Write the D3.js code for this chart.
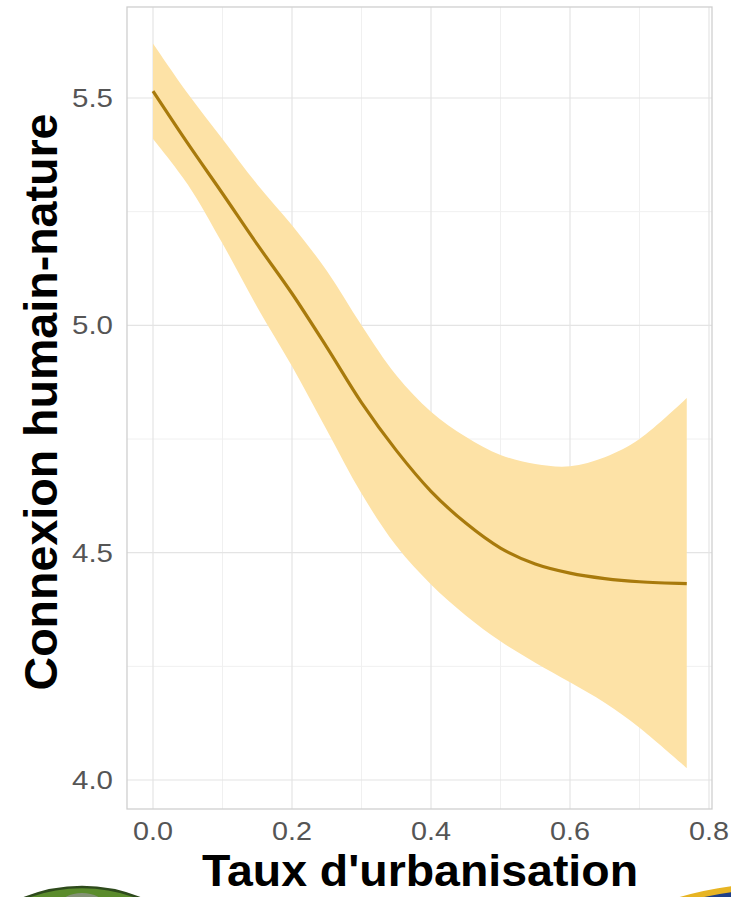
<!DOCTYPE html>
<html>
<head>
<meta charset="utf-8">
<script src="https://cdn.jsdelivr.net/npm/d3@7"></script>
<style>
  html, body { margin: 0; padding: 0; background: #ffffff; }
  svg { display: block; }
</style>
</head>
<body>
<svg id="chart" width="731" height="897"></svg>
<script>
// Urbanisation rate (x) and the fitted human–nature connection with its confidence band
const urbanisation = [0, 0.05, 0.1, 0.15, 0.2, 0.25, 0.3, 0.35, 0.4, 0.45, 0.5, 0.55, 0.6, 0.65, 0.7, 0.768];
const connexionFit = [5.515, 5.40, 5.29, 5.178, 5.07, 4.952, 4.83, 4.725, 4.635, 4.565, 4.51, 4.475, 4.455, 4.443, 4.436, 4.432];
const connexionHigh = [5.62, 5.51, 5.41, 5.31, 5.22, 5.12, 5.00, 4.89, 4.81, 4.755, 4.715, 4.695, 4.69, 4.71, 4.75, 4.84];
const connexionLow = [5.41, 5.31, 5.18, 5.04, 4.91, 4.77, 4.63, 4.515, 4.43, 4.362, 4.305, 4.258, 4.215, 4.17, 4.115, 4.026];

const xTicks = [0, 0.2, 0.4, 0.6, 0.8];
const xMinor = [0.1, 0.3, 0.5, 0.7];
const yTicks = [4.0, 4.5, 5.0, 5.5];
const yMinor = [4.25, 4.75, 5.25];

const xTitle = "Taux d'urbanisation";
const yTitle = "Connexion humain-nature";

const svg = d3.select("#chart");

const panel = { left: 127, right: 712, top: 7, bottom: 809 };

const x = d3.scaleLinear().domain([0, 0.8]).range([153, 709]);
const y = d3.scaleLinear().domain([4.0, 5.5]).range([780, 98]);

// grid: minor lines first, then major
const grid = svg.append("g");
grid.selectAll("line.minor-x").data(xMinor).join("line")
  .attr("x1", d => x(d)).attr("x2", d => x(d))
  .attr("y1", panel.top).attr("y2", panel.bottom)
  .attr("stroke", "#f0f0f0").attr("stroke-width", 1);
grid.selectAll("line.minor-y").data(yMinor).join("line")
  .attr("y1", d => y(d)).attr("y2", d => y(d))
  .attr("x1", panel.left).attr("x2", panel.right)
  .attr("stroke", "#f0f0f0").attr("stroke-width", 1);
grid.selectAll("line.major-x").data(xTicks).join("line")
  .attr("x1", d => x(d)).attr("x2", d => x(d))
  .attr("y1", panel.top).attr("y2", panel.bottom)
  .attr("stroke", "#e4e4e4").attr("stroke-width", 1.2);
grid.selectAll("line.major-y").data(yTicks).join("line")
  .attr("y1", d => y(d)).attr("y2", d => y(d))
  .attr("x1", panel.left).attr("x2", panel.right)
  .attr("stroke", "#e4e4e4").attr("stroke-width", 1.2);

const pts = urbanisation.map((u, i) => ({ u, fit: connexionFit[i], lo: connexionLow[i], hi: connexionHigh[i] }));

// confidence ribbon
const area = d3.area()
  .x(d => x(d.u))
  .y0(d => y(d.lo))
  .y1(d => y(d.hi))
  .curve(d3.curveCatmullRom.alpha(0.5));
svg.append("path").datum(pts)
  .attr("d", area)
  .attr("fill", "#fde2a6");

// fitted line
const line = d3.line()
  .x(d => x(d.u))
  .y(d => y(d.fit))
  .curve(d3.curveCatmullRom.alpha(0.5));
svg.append("path").datum(pts)
  .attr("d", line)
  .attr("fill", "none")
  .attr("stroke", "#a87a0c")
  .attr("stroke-width", 3.2);

// panel border
svg.append("rect")
  .attr("x", panel.left).attr("y", panel.top)
  .attr("width", panel.right - panel.left).attr("height", panel.bottom - panel.top)
  .attr("fill", "none").attr("stroke", "#cfcfcf").attr("stroke-width", 1.3);

// tick labels
const tickFont = "'Liberation Sans', Arial, sans-serif";
svg.append("g").selectAll("text").data(xTicks).join("text")
  .attr("x", d => x(d)).attr("y", 840)
  .attr("text-anchor", "middle")
  .attr("font-family", tickFont).attr("font-size", 25)
  .attr("fill", "#555555")
  .attr("textLength", 40).attr("lengthAdjust", "spacingAndGlyphs")
  .text(d => d3.format(".1f")(d));
svg.append("g").selectAll("text").data(yTicks).join("text")
  .attr("x", 113).attr("y", d => y(d) + 9)
  .attr("text-anchor", "end")
  .attr("font-family", tickFont).attr("font-size", 26)
  .attr("fill", "#555555")
  .attr("textLength", 41).attr("lengthAdjust", "spacingAndGlyphs")
  .text(d => d3.format(".1f")(d));

// axis titles
svg.append("text")
  .attr("x", 420).attr("y", 886)
  .attr("text-anchor", "middle")
  .attr("font-family", tickFont).attr("font-weight", "bold").attr("font-size", 44)
  .attr("fill", "#000000")
  .attr("textLength", 436).attr("lengthAdjust", "spacingAndGlyphs")
  .text(xTitle);
svg.append("text")
  .attr("transform", "translate(57,402) rotate(-90)")
  .attr("text-anchor", "middle")
  .attr("font-family", tickFont).attr("font-weight", "bold").attr("font-size", 46)
  .attr("fill", "#000000")
  .attr("textLength", 577).attr("lengthAdjust", "spacingAndGlyphs")
  .text(yTitle);

// emblems peeking in at the bottom corners
const logos = svg.append("g");
logos.append("circle").attr("cx", 82).attr("cy", 1043).attr("r", 156)
  .attr("fill", "#5b8c2c").attr("stroke", "#2e4a1c").attr("stroke-width", 2.5);
logos.append("ellipse").attr("cx", 82).attr("cy", 905).attr("rx", 22).attr("ry", 12)
  .attr("fill", "#8e938a").attr("opacity", 0.8);
logos.append("circle").attr("cx", 780).attr("cy", 1249).attr("r", 363)
  .attr("fill", "#1f3f88").attr("stroke", "#e7b423").attr("stroke-width", 6);
</script>
</body>
</html>
